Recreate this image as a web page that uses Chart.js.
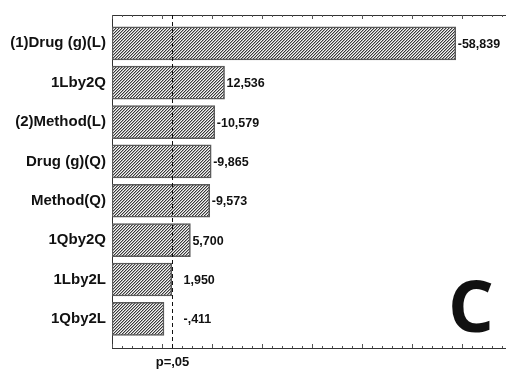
<!DOCTYPE html>
<html>
<head>
<meta charset="utf-8">
<script src="https://cdn.jsdelivr.net/npm/chart.js@4.4.1/dist/chart.umd.min.js"></script>
<style>
  html, body { margin: 0; padding: 0; background: #fff; }
  #wrap { width: 506px; height: 369px; position: relative; }
</style>
</head>
<body>
<div id="wrap"><canvas id="chart" width="506" height="369"></canvas></div>
<script>
// Pareto chart of standardized effects
const effectNames = ['(1)Drug (g)(L)', '1Lby2Q', '(2)Method(L)', 'Drug (g)(Q)', 'Method(Q)', '1Qby2Q', '1Lby2L', '1Qby2L'];
const effectValues = [-58.839, 12.536, -10.579, -9.865, -9.573, 5.700, 1.950, -0.411];
const criticalValue = 1.96;          // p = .05
const criticalLabel = 'p=,05';
const panelLetter = 'C';
const axisMin = -10;
const axisMax = 68.9;
const majorStep = 10;
const minorStep = 2;

function formatEffect(v) {
  let s = Math.abs(v).toFixed(3).replace('.', ',');
  if (s.startsWith('0,')) s = s.slice(1);
  return (v < 0 ? '-' : '') + s;
}

// diagonal hatch fill
function hatchPattern() {
  const c = document.createElement('canvas');
  c.width = 3; c.height = 3;
  const g = c.getContext('2d');
  g.fillStyle = '#f6f6f6';
  g.fillRect(0, 0, 3, 3);
  for (let i = 0; i < 3; i++) {
    g.fillStyle = '#3a3a3a';
    g.fillRect(i, 2 - i, 1, 1);
    g.fillStyle = '#a8a8a8';
    g.fillRect((i + 1) % 3, 2 - i, 1, 1);
  }
  return document.getElementById('chart').getContext('2d').createPattern(c, 'repeat');
}

const barData = effectValues.map((v, i) => ({ x: [axisMin, Math.abs(v)], y: i }));

const FONT = '"Liberation Sans", Arial, sans-serif';

const decorations = {
  id: 'decorations',
  afterDatasetsDraw(chart) {
    const ctx = chart.ctx;
    const area = chart.chartArea;
    const xs = chart.scales.x;
    const ys = chart.scales.y;
    ctx.save();

    // frame top and bottom
    ctx.strokeStyle = '#333';
    ctx.lineWidth = 1;
    ctx.beginPath();
    ctx.moveTo(area.left, Math.round(area.top) + 0.5);
    ctx.lineTo(area.right, Math.round(area.top) + 0.5);
    ctx.moveTo(area.left, Math.round(area.bottom) + 0.5);
    ctx.lineTo(area.right, Math.round(area.bottom) + 0.5);
    ctx.stroke();

    // inward tick marks on top and bottom edges
    ctx.strokeStyle = '#555';
    ctx.beginPath();
    for (let v = axisMin; v <= axisMax; v += minorStep) {
      const px = Math.round(xs.getPixelForValue(v)) + 0.5;
      const len = (v % majorStep === 0) ? 4 : 2;
      ctx.moveTo(px, area.top);
      ctx.lineTo(px, area.top + len);
      ctx.moveTo(px, area.bottom);
      ctx.lineTo(px, area.bottom - len);
    }
    ctx.stroke();

    // significance line
    const cx = Math.round(xs.getPixelForValue(criticalValue)) + 0.5;
    ctx.strokeStyle = '#111';
    ctx.setLineDash([4, 3]);
    ctx.beginPath();
    ctx.moveTo(cx, area.top);
    ctx.lineTo(cx, area.bottom);
    ctx.stroke();
    ctx.setLineDash([]);

    ctx.fillStyle = '#111';
    ctx.font = 'bold 13px ' + FONT;
    ctx.textAlign = 'center';
    ctx.textBaseline = 'alphabetic';
    ctx.fillText(criticalLabel, cx, area.bottom + 18);

    // value labels
    ctx.font = 'bold 12.5px ' + FONT;
    ctx.textAlign = 'left';
    ctx.textBaseline = 'middle';
    effectValues.forEach((v, i) => {
      const end = xs.getPixelForValue(Math.abs(v));
      const x = Math.max(end + 2, cx + 11);
      ctx.fillText(formatEffect(v), x, ys.getPixelForValue(i) + 1);
    });

    // panel letter
    ctx.font = 'bold 72px "Open Sans", sans-serif';
    ctx.textAlign = 'right';
    ctx.textBaseline = 'alphabetic';
    ctx.fillText(panelLetter, 494, 332);
    ctx.restore();
  }
};

new Chart(document.getElementById('chart'), {
  type: 'bar',
  data: {
    datasets: [{
      data: barData,
      backgroundColor: hatchPattern(),
      borderColor: '#5a5a5a',
      borderWidth: 1.5,
      borderSkipped: false,
      barThickness: 33
    }]
  },
  options: {
    indexAxis: 'y',
    responsive: false,
    animation: false,
    events: [],
    layout: { padding: { top: 10, bottom: 21, right: 0, left: 0 } },
    plugins: { legend: { display: false }, tooltip: { enabled: false } },
    scales: {
      x: {
        type: 'linear',
        min: axisMin,
        max: axisMax,
        offset: false,
        display: false
      },
      y: {
        type: 'linear',
        min: -0.72,
        max: 7.74,
        reverse: true,
        offset: false,
        afterFit(scale) { scale.width = 112; },
        grid: { display: false, drawTicks: false, offset: false },
        border: { display: true, color: '#333', width: 1 },
        ticks: {
          stepSize: 1,
          padding: 6,
          color: '#111',
          font: { family: FONT, size: 15, weight: 'bold' },
          callback(value) {
            return Number.isInteger(value) && effectNames[value] !== undefined ? effectNames[value] : '';
          }
        }
      }
    }
  },
  plugins: [decorations]
});
</script>
</body>
</html>
